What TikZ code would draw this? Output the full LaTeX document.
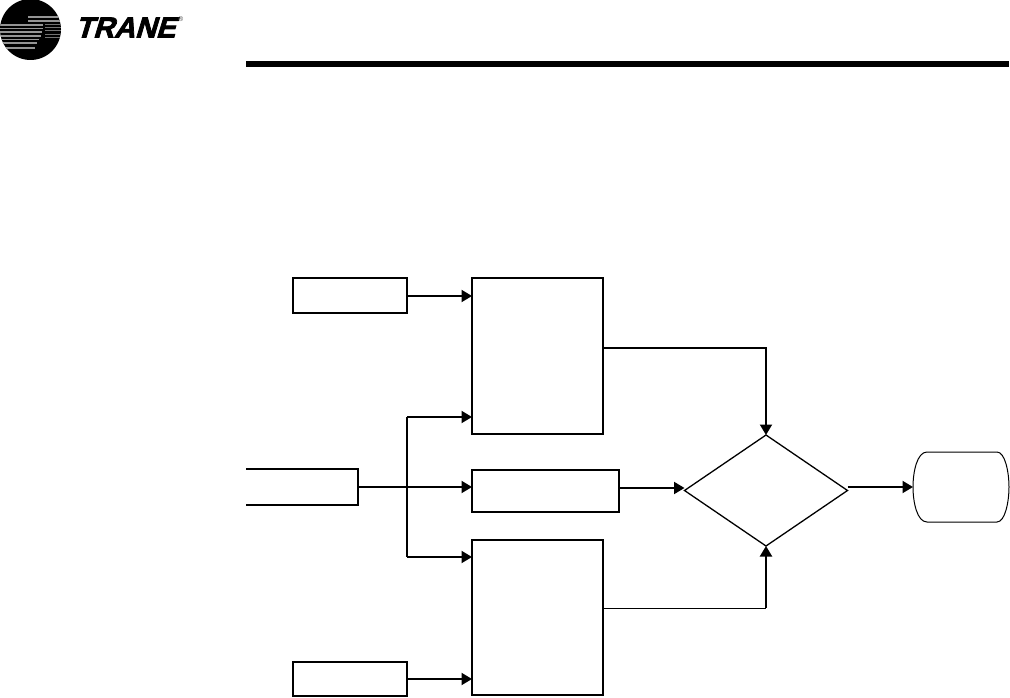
\documentclass[tikz,border=0pt]{standalone}
\usepackage{fontspec}
\setmainfont{Liberation Sans}
\newfontfamily\logofont[UprightFont=* Bold,FakeBold=2.6,FakeSlant=0.3]{Liberation Sans}
\usetikzlibrary{arrows.meta,shapes.geometric}
\tikzset{
  box/.style={draw=black,line width=1.9pt,fill=white,inner sep=0pt,outer sep=0pt,anchor=north west},
  flow/.style={draw=black,line width=1.9pt,-{Triangle[length=10.5pt,width=12pt]}},
  plainline/.style={draw=black,line width=1.9pt},
  thinline/.style={draw=black,line width=1pt},
  stripe/.style={line width=1.1pt,black!42}
}
\begin{document}
\begin{tikzpicture}[x=1pt,y=-1pt]
\useasboundingbox (0,0) rectangle (1010,698);
% logo
\fill[black] (30.5,29.5) circle (30.5);
\begin{scope}
\clip (30.5,29.5) circle (30.5);
\foreach \y/\xa/\xb in {17/28/62,21/28/62,25/0/43,28.5/0/43,32/0/42,36/0/41,39.5/0/39,43/0/37,48/5/35}{
  \draw[stripe] (\xa,\y) -- (\xb,\y);
}
\foreach \y in {24,27,30.5,34,37.5}{
  \draw[line width=.9pt,black!55] (45,\y) -- (62,\y);
}
\end{scope}
\node[anchor=west,inner sep=0pt,font=\logofont\fontsize{29}{29}\selectfont,xscale=1.0,transform shape] (brand) at (75,27.5) {TRANE};
\node[anchor=west,inner sep=0pt,text=black!75,font=\fontsize{7}{7}\selectfont] (reg) at (178,19.5) {®};
% header rule
\fill[black] (246,61) rectangle (1009,67);
% boxes
\node[box,minimum width=114pt,minimum height=35pt] (t) at (293,278) {};
\node[box,minimum width=131pt,minimum height=156pt] (a) at (472,278) {};
\node[box,minimum width=147pt,minimum height=42pt] (m) at (472,470) {};
\node[box,minimum width=131pt,minimum height=155pt] (b) at (472,540) {};
\node[box,minimum width=114pt,minimum height=34pt] (u) at (293,662) {};
\node[draw=black,line width=1.3pt,diamond,aspect=1.46,inner sep=0pt,outer sep=0pt,minimum width=163pt,minimum height=111pt] (d) at (766,490.5) {};
% open-ended input box
\coordinate (lt) at (246,469);
\coordinate (rt) at (358,469);
\coordinate (rb) at (358,505);
\coordinate (lb) at (246,505);
\coordinate (lm) at (358,487);
\draw[plainline,line join=miter] (lt) -- (rt) -- (rb) -- (lb);
% terminator
\node[inner sep=0pt,outer sep=0pt,minimum width=96pt,minimum height=70pt,anchor=north west] (r) at (913,452) {};
\draw[black,line width=1pt] (927,452) -- (997,452)
  .. controls (1005,452) and (1009,472) .. (1009,487)
  .. controls (1009,502) and (1005,522) .. (997,522) -- (927,522)
  .. controls (917,522) and (913,502) .. (913,487)
  .. controls (913,472) and (917,452) .. (927,452) -- cycle;
% connectors
\coordinate (j) at (407,487);
\draw[flow] (t.east |- 0,296) -- (a.west |- 0,296);
\coordinate (au) at (a.east |- 0,348);
\coordinate (ta) at (766,348);
\draw[flow] (au) -- (ta) -- (d.north);
\draw[flow] (lm) -- (m.west |- lm);
\draw[plainline] (j |- 0,417) -- (j |- 0,557);
\draw[flow] (j |- 0,417) -- (a.west |- 0,417);
\draw[flow] (j |- 0,557) -- (b.west |- 0,557);
\draw[flow] (m.east |- 0,488) -- (d.west |- 0,488);
\draw[flow] (d.east |- 0,487) -- (r.west |- 0,487);
\coordinate (bu) at (b.east |- 0,608);
\coordinate (bt) at (766,608);
\draw[thinline] (bu) -- (bt);
\draw[flow] (bt) -- (d.south);
\draw[flow] (u.east |- 0,679) -- (b.west |- 0,679);
\end{tikzpicture}
\end{document}
